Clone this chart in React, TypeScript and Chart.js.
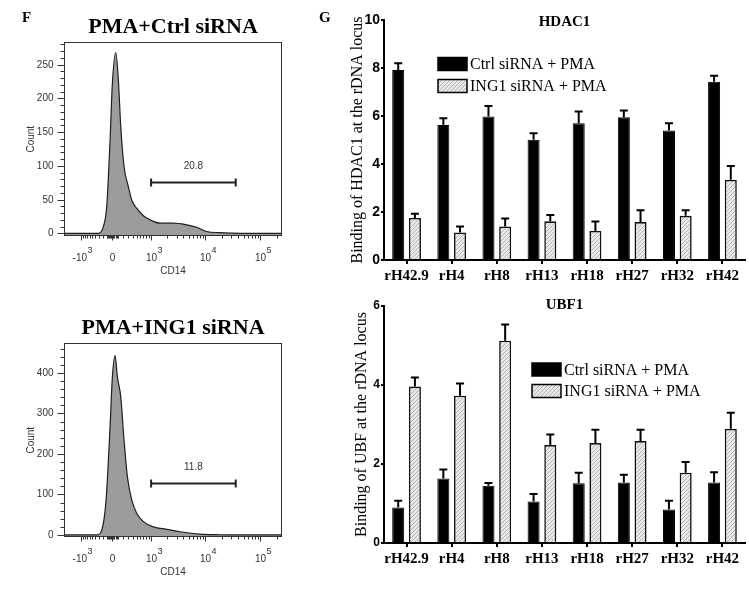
import React, { useEffect, useRef } from 'react';
import { Chart, registerables } from 'chart.js';

Chart.register(...registerables);

// ---------------- Panel F : flow cytometry histograms ----------------
const flowTitles = ['PMA+Ctrl siRNA', 'PMA+ING1 siRNA'];

// CD14 intensity (x) and cell count (y)
const ctrlIntensity = [-2500, -600, -319, -192, -115, -43, 5, 63, 108, 151, 212, 299, 374, 500, 698, 954, 1487, 2624, 4612, 7020, 10670, 18640, 43000, 250000];
const ctrlCount = [0, 0, 0, 10, 40, 138, 222, 268, 227, 158, 99, 69, 49, 37, 26, 20, 15, 15, 12.5, 9, 2.7, 1, 0, 0];

const ing1Intensity = [-2500, -600, -363, -231, -130, -43, 5, 51, 91, 151, 212, 278, 374, 500, 698, 1105, 1980, 3480, 8055, 18640, 43000, 250000];
const ing1Count = [0, 0, 0, 12, 86, 267, 390, 443, 390, 341, 234, 144, 86, 53, 33, 20, 14, 8, 2, 0.5, 0, 0];

const gatePercents = ['20.8', '11.8'];
const gateLow = 1000;
const gateHigh = 36000;
const gateCounts = [76, 128];

const flowYMin = [-4, -5];
const flowYMax = [283, 473];
const flowYMajor = [50, 100];
const flowYMinor = [10, 20];

const flowXAxisMin = -2500;
const flowXAxisMax = 250000;
const flowXMajorTicks = [-1000, 0, 1000, 10000, 100000];
const flowXTickBase = ['-10', '0', '10', '10', '10'];
const flowXTickExp = ['3', '', '3', '4', '5'];
const flowXMinorTicks = [
  -900, -800, -700, -600, -500, -400, -300, -200, -100, -80, -60, -40, -20,
  20, 40, 60, 80, 100, 200, 300, 400, 500, 600, 700, 800, 900,
  2000, 3000, 4000, 5000, 6000, 7000, 8000, 9000,
  20000, 30000, 40000, 50000, 60000, 70000, 80000, 90000, 200000,
];

// ---------------- Panel G : ChIP bar charts ----------------
const categories = ['rH42.9', 'rH4', 'rH8', 'rH13', 'rH18', 'rH27', 'rH32', 'rH42'];
const seriesNames = ['Ctrl siRNA + PMA', 'ING1 siRNA + PMA'];

const hdacCtrl = [7.92, 5.63, 5.98, 5.01, 5.7, 5.95, 5.4, 7.43];
const hdacCtrlErr = [0.28, 0.28, 0.44, 0.27, 0.49, 0.28, 0.3, 0.25];
const hdacIng1 = [1.75, 1.15, 1.4, 1.61, 1.21, 1.58, 1.84, 3.34];
const hdacIng1Err = [0.18, 0.25, 0.33, 0.26, 0.39, 0.49, 0.23, 0.58];

const ubfCtrl = [0.9, 1.63, 1.45, 1.05, 1.51, 1.53, 0.85, 1.53];
const ubfCtrlErr = [0.17, 0.23, 0.07, 0.19, 0.27, 0.2, 0.22, 0.26];
const ubfIng1 = [3.96, 3.73, 5.12, 2.48, 2.53, 2.58, 1.78, 2.89];
const ubfIng1Err = [0.23, 0.31, 0.41, 0.27, 0.34, 0.29, 0.27, 0.41];

// biexponential-like display transform for the CD14 axis
function biex(v: number): number {
  return v >= 0 ? Math.asinh(v / 406) : -0.8 * Math.asinh(-v / 406);
}

const SANS = '"Liberation Sans", Arial, sans-serif';
const SERIF = '"Liberation Serif", "Times New Roman", serif';

const flowAxesPlugin = {
  id: 'flowAxes',
  afterDraw(chart: any, _args: any, opts: any) {
    const { ctx, chartArea: a } = chart;
    const xs = chart.scales.x;
    const ys = chart.scales.y;
    ctx.save();
    ctx.strokeStyle = '#333';
    ctx.lineWidth = 1;
    const L = Math.round(a.left) + 0.5;
    const T = Math.round(a.top) + 0.5;
    const R = Math.round(a.right) - 0.5;
    const B = Math.round(a.bottom) - 0.5;
    ctx.strokeRect(L, T, R - L, B - T);

    // y ticks
    ctx.fillStyle = '#333';
    ctx.font = '10px ' + SANS;
    ctx.textAlign = 'right';
    ctx.textBaseline = 'middle';
    for (let v = 0; v <= ys.max; v += opts.yMinor) {
      const py = Math.round(ys.getPixelForValue(v)) + 0.5;
      const major = v % opts.yMajor === 0;
      ctx.beginPath();
      ctx.moveTo(L, py);
      ctx.lineTo(L - (major ? 7 : 4), py);
      ctx.stroke();
      if (major) ctx.fillText(String(v), L - 11, py);
    }

    // x ticks
    flowXMinorTicks.forEach((v) => {
      const px = Math.round(xs.getPixelForValue(biex(v))) + 0.5;
      ctx.beginPath();
      ctx.moveTo(px, B);
      ctx.lineTo(px, B + 3);
      ctx.stroke();
    });
    flowXMajorTicks.forEach((v, i) => {
      const px = Math.round(xs.getPixelForValue(biex(v))) + 0.5;
      ctx.beginPath();
      ctx.moveTo(px, B);
      ctx.lineTo(px, B + 5);
      ctx.stroke();
      ctx.font = '10px ' + SANS;
      ctx.textBaseline = 'middle';
      const base = flowXTickBase[i];
      const neg = base.startsWith('-');
      const core = neg ? base.slice(1) : base;
      const w = ctx.measureText(core).width;
      ctx.textAlign = 'center';
      ctx.fillText(core, px, B + 23);
      if (neg) {
        ctx.textAlign = 'right';
        ctx.fillText('-', px - w / 2, B + 23);
      }
      const ex = flowXTickExp[i];
      if (ex) {
        ctx.font = '9px ' + SANS;
        ctx.textAlign = 'left';
        ctx.fillText(ex, px + w / 2 + 0.5, B + 15);
      }
    });

    // axis titles
    ctx.font = '10px ' + SANS;
    ctx.textAlign = 'center';
    ctx.textBaseline = 'middle';
    ctx.fillText('CD14', (a.left + a.right) / 2, B + 36);
    ctx.save();
    ctx.translate(a.left - 33, (a.top + a.bottom) / 2);
    ctx.rotate(-Math.PI / 2);
    ctx.fillText('Count', 0, 0);
    ctx.restore();

    // gate
    const gy = Math.round(ys.getPixelForValue(opts.gateCount)) + 0.5;
    const x1 = xs.getPixelForValue(biex(gateLow));
    const x2 = xs.getPixelForValue(biex(gateHigh));
    ctx.strokeStyle = '#222';
    ctx.lineWidth = 2;
    ctx.beginPath();
    ctx.moveTo(x1, gy);
    ctx.lineTo(x2, gy);
    ctx.moveTo(x1, gy - 4);
    ctx.lineTo(x1, gy + 4);
    ctx.moveTo(x2, gy - 4);
    ctx.lineTo(x2, gy + 4);
    ctx.stroke();
    ctx.fillStyle = '#333';
    ctx.font = '10px ' + SANS;
    ctx.fillText(opts.gateLabel, (x1 + x2) / 2, gy - 16);
    ctx.restore();
  },
};

function flowConfig(idx: number): any {
  const xs = idx === 0 ? ctrlIntensity : ing1Intensity;
  const ys = idx === 0 ? ctrlCount : ing1Count;
  return {
    type: 'line',
    data: {
      datasets: [
        {
          label: flowTitles[idx],
          data: xs.map((v, i) => ({ x: biex(v), y: ys[i] })),
          fill: 'start',
          backgroundColor: '#9c9c9c',
          borderColor: '#1e1e1e',
          borderWidth: 1.2,
          pointRadius: 0,
          cubicInterpolationMode: 'monotone',
        },
      ],
    },
    options: {
      animation: false,
      responsive: false,
      events: [],
      layout: { padding: { left: 64, right: 18, top: 2, bottom: idx === 0 ? 59 : 67 } },
      scales: {
        x: { type: 'linear', display: false, min: biex(flowXAxisMin), max: biex(flowXAxisMax) },
        y: { type: 'linear', display: false, min: flowYMin[idx], max: flowYMax[idx] },
      },
      plugins: {
        legend: { display: false },
        tooltip: { enabled: false },
        title: {
          display: true,
          text: flowTitles[idx],
          color: '#000',
          font: { family: SERIF, size: 22, weight: 'bold' },
          padding: { top: idx === 0 ? 12 : 13, bottom: 2 },
        },
        flowAxes: {
          yMajor: flowYMajor[idx],
          yMinor: flowYMinor[idx],
          gateCount: gateCounts[idx],
          gateLabel: gatePercents[idx],
        },
      },
    },
    plugins: [flowAxesPlugin],
  };
}

const errorBarPlugin = {
  id: 'errorBars',
  afterDatasetsDraw(chart: any) {
    const { ctx } = chart;
    const y = chart.scales.y;
    chart.data.datasets.forEach((ds: any, i: number) => {
      const errs = ds.errors;
      if (!errs) return;
      const meta = chart.getDatasetMeta(i);
      meta.data.forEach((bar: any, j: number) => {
        const top = y.getPixelForValue(ds.data[j] + errs[j]);
        ctx.save();
        ctx.strokeStyle = '#000';
        ctx.lineWidth = 2;
        ctx.beginPath();
        ctx.moveTo(bar.x, bar.y);
        ctx.lineTo(bar.x, top);
        ctx.moveTo(bar.x - 4, top);
        ctx.lineTo(bar.x + 4, top);
        ctx.stroke();
        ctx.restore();
      });
    });
  },
};

const boxLegendPlugin = {
  id: 'boxLegend',
  afterDraw(chart: any, _args: any, opts: any) {
    const { ctx, chartArea: a } = chart;
    ctx.save();
    ctx.font = '16px ' + SERIF;
    ctx.textBaseline = 'middle';
    ctx.textAlign = 'left';
    chart.data.datasets.forEach((ds: any, i: number) => {
      const bx = a.left + opts.dx;
      const cy = a.top + opts.dy + i * opts.rowGap;
      ctx.fillStyle = ds.backgroundColor;
      ctx.fillRect(bx, cy - 6.5, 29, 13);
      ctx.strokeStyle = '#000';
      ctx.lineWidth = 1.5;
      ctx.strokeRect(bx, cy - 6.5, 29, 13);
      ctx.fillStyle = '#000';
      ctx.fillText(ds.label, bx + 32, cy + 1);
    });
    ctx.font = 'bold 15px ' + SERIF;
    ctx.textAlign = 'center';
    ctx.fillStyle = '#000';
    ctx.fillText(opts.title, (a.left + a.right) / 2, a.top + opts.titleDy);
    ctx.restore();
  },
};

function makeHatch(): CanvasPattern | string {
  const c = document.createElement('canvas');
  c.width = 4;
  c.height = 4;
  const g = c.getContext('2d');
  if (!g) return '#e0e0e0';
  g.fillStyle = '#e8e8e8';
  g.fillRect(0, 0, 4, 4);
  g.strokeStyle = '#b5b5b5';
  g.lineWidth = 1;
  g.beginPath();
  g.moveTo(0, 4);
  g.lineTo(4, 0);
  g.moveTo(-1, 1);
  g.lineTo(1, -1);
  g.moveTo(3, 5);
  g.lineTo(5, 3);
  g.stroke();
  return g.createPattern(c, 'repeat') || '#e0e0e0';
}

function barConfig(which: 'hdac' | 'ubf'): any {
  const isH = which === 'hdac';
  const hatch = makeHatch();
  return {
    type: 'bar',
    data: {
      labels: categories,
      datasets: [
        {
          label: seriesNames[0],
          data: isH ? hdacCtrl : ubfCtrl,
          errors: isH ? hdacCtrlErr : ubfCtrlErr,
          backgroundColor: '#000',
          borderColor: '#000',
          borderWidth: 1,
          categoryPercentage: 0.74,
          barPercentage: 0.72,
        },
        {
          label: seriesNames[1],
          data: isH ? hdacIng1 : ubfIng1,
          errors: isH ? hdacIng1Err : ubfIng1Err,
          backgroundColor: hatch,
          borderColor: '#111',
          borderWidth: 1.6,
          categoryPercentage: 0.74,
          barPercentage: 0.72,
        },
      ],
    },
    options: {
      animation: false,
      responsive: false,
      events: [],
      layout: { padding: { left: 0, right: 4, top: isH ? 20 : 11, bottom: isH ? 10 : 36 } },
      scales: {
        x: {
          afterFit: (s: any) => {
            s.height = 25;
          },
          grid: { display: true, drawOnChartArea: false, drawTicks: true, tickLength: 4, offset: false, color: '#000', lineWidth: 2 },
          border: { display: true, color: '#000', width: 2 },
          ticks: { color: '#000', padding: 3, font: { family: SERIF, size: 15, weight: 'bold' }, maxRotation: 0, autoSkip: false },
        },
        y: {
          min: 0,
          max: isH ? 10 : 6,
          afterFit: (s: any) => {
            s.width = 54;
          },
          grid: { display: true, drawOnChartArea: false, drawTicks: true, tickLength: 3, color: '#000', lineWidth: 2 },
          border: { display: true, color: '#000', width: 2 },
          ticks: { stepSize: 2, color: '#000', padding: 1, font: { family: SANS, size: isH ? 14 : 12, weight: 'bold' } },
          title: {
            display: true,
            text: isH ? 'Binding of HDAC1 at the rDNA locus' : 'Binding of UBF at the rDNA locus',
            color: '#000',
            font: { family: SERIF, size: 16, weight: 'normal' },
            padding: { top: isH ? 18 : 22, bottom: 0 },
          },
        },
      },
      plugins: {
        legend: { display: false },
        tooltip: { enabled: false },
        boxLegend: isH
          ? { dx: 54, dy: 44, rowGap: 22, title: 'HDAC1', titleDy: 2.5 }
          : { dx: 148, dy: 63.5, rowGap: 21.5, title: 'UBF1', titleDy: -1 },
      },
    },
    plugins: [errorBarPlugin, boxLegendPlugin],
  };
}

function ChartCanvas(props: { make: () => any; left: number; top: number; width: number; height: number }) {
  const ref = useRef<HTMLCanvasElement>(null);
  useEffect(() => {
    if (!ref.current) return;
    const chart = new Chart(ref.current, props.make());
    return () => chart.destroy();
  }, []);
  return (
    <canvas
      ref={ref}
      width={props.width}
      height={props.height}
      style={{ position: 'absolute', left: props.left, top: props.top, width: props.width, height: props.height }}
    />
  );
}

const panelLetter: React.CSSProperties = {
  position: 'absolute',
  fontFamily: SERIF,
  fontWeight: 'bold',
  fontSize: 15,
  lineHeight: '18px',
  color: '#000',
};

export default function App() {
  return (
    <div style={{ position: 'absolute', left: 0, top: 0, width: 749, height: 604, background: '#fff', overflow: 'hidden' }}>
      <ChartCanvas make={() => flowConfig(0)} left={0} top={0} width={300} height={295} />
      <ChartCanvas make={() => flowConfig(1)} left={0} top={300} width={300} height={304} />
      <ChartCanvas make={() => barConfig('hdac')} left={330} top={0} width={419} height={295} />
      <ChartCanvas make={() => barConfig('ubf')} left={330} top={295} width={419} height={309} />
      <div style={{ ...panelLetter, left: 22, top: 8 }}>F</div>
      <div style={{ ...panelLetter, left: 319, top: 8 }}>G</div>
    </div>
  );
}
